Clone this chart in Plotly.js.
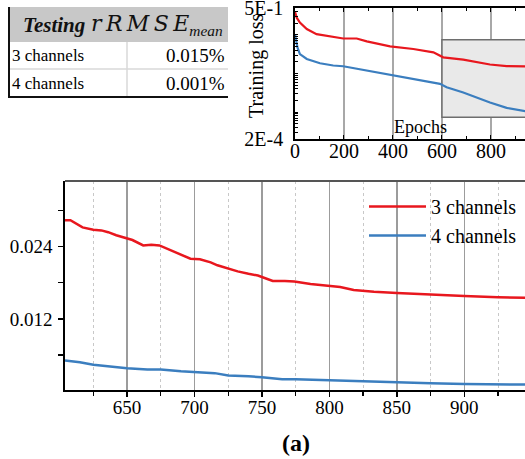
<!DOCTYPE html>
<html>
<head>
<meta charset="utf-8">
<script src="https://cdn.plot.ly/plotly-3.0.1.min.js"></script>
<style>html,body{margin:0;padding:0;background:#fff;}#chart{width:525px;height:459px;}</style>
</head>
<body>
<div id="chart"></div>
<script>
// ---------- data ----------
const seriesNames = ["3 channels", "4 channels"];

// main (zoomed) plot, epochs 604-945
const zoomEpochsRed = [604, 608, 617, 625, 631, 636, 642, 650, 654, 662, 668, 674, 678, 683, 690, 697, 704, 712, 717, 725, 732, 740, 747, 752, 758, 767, 774, 786, 800, 808, 818, 833, 850, 875, 900, 925, 945];
const zoomRed = [0.0284, 0.0284, 0.0272, 0.0268, 0.0267, 0.0264, 0.0259, 0.0253, 0.0251, 0.0242, 0.0243, 0.0242, 0.0238, 0.0233, 0.0226, 0.0220, 0.0219, 0.0214, 0.0209, 0.0203, 0.0199, 0.0195, 0.0192, 0.0188, 0.0183, 0.0183, 0.0182, 0.0178, 0.0175, 0.0173, 0.0168, 0.0165, 0.0163, 0.0160, 0.0158, 0.0156, 0.0155];
const zoomEpochsBlue = [604, 615, 625, 640, 650, 665, 675, 690, 700, 715, 725, 740, 750, 765, 775, 800, 825, 850, 875, 900, 925, 945];
const zoomBlue = [0.0051, 0.0048, 0.0044, 0.0040, 0.0038, 0.0036, 0.0036, 0.0033, 0.0032, 0.0030, 0.0026, 0.0025, 0.0023, 0.0020, 0.0020, 0.0018, 0.0016, 0.0014, 0.0013, 0.0012, 0.0011, 0.0011];

// inset plot (full training, log scale)
const fullEpochsRed = [0, 7, 20, 48, 88, 143, 197, 252, 293, 388, 483, 565, 605, 687, 796, 864, 940];
const fullRed = [0.40, 0.281, 0.209, 0.142, 0.105, 0.091, 0.081, 0.081, 0.068, 0.0505, 0.0433, 0.0355, 0.0263, 0.0229, 0.0171, 0.0155, 0.0153];
const fullEpochsBlue = [0, 10, 20, 48, 102, 156, 197, 293, 388, 483, 592, 619, 687, 796, 864, 940];
const fullBlue = [0.105, 0.0475, 0.032, 0.0239, 0.0184, 0.0161, 0.0154, 0.0119, 0.0094, 0.0073, 0.0054, 0.0044, 0.0032, 0.00176, 0.00128, 0.00105];

// inset axis labels
const insetYTickVals = [0.0002, 0.5];
const insetYTickText = ["2E-4", "5E-1"];
const zoomBoxEpochs = [600, 945];
const zoomBoxLoss = [0.000736, 0.075];

// table
const tableRows = ["3 channels", "4 channels"];
const tableValues = ["0.015%", "0.001%"];

// ---------- styles ----------
const RED = "#e8171e", BLUE = "#3b7ebf";
const SERIF = "Liberation Serif";
const MATH = "DejaVu Serif";
const W = 525, H = 459;
const px = x => x / W, py = y => 1 - y / H;

const traces = [
  {x: zoomEpochsRed, y: zoomRed, name: seriesNames[0], type: "scatter", mode: "lines",
   line: {color: RED, width: 2.5}, xaxis: "x", yaxis: "y", legendgroup: "a"},
  {x: zoomEpochsBlue, y: zoomBlue, name: seriesNames[1], type: "scatter", mode: "lines",
   line: {color: BLUE, width: 2.5}, xaxis: "x", yaxis: "y", legendgroup: "b"},
  {x: fullEpochsRed, y: fullRed, name: seriesNames[0], type: "scatter", mode: "lines",
   line: {color: RED, width: 2.2}, xaxis: "x2", yaxis: "y2", showlegend: false},
  {x: fullEpochsBlue, y: fullBlue, name: seriesNames[1], type: "scatter", mode: "lines",
   line: {color: BLUE, width: 2.2}, xaxis: "x2", yaxis: "y2", showlegend: false}
];

const shapes = [
  // main plot top border
  {type: "line", xref: "paper", yref: "paper", x0: px(65), x1: 1, y0: py(181), y1: py(181),
   line: {color: "#555", width: 2}},
  // inset zoom box
  {type: "rect", xref: "x2", yref: "y2", x0: zoomBoxEpochs[0], x1: zoomBoxEpochs[1],
   y0: zoomBoxLoss[0], y1: zoomBoxLoss[1], fillcolor: "#e9e9e9", layer: "between",
   line: {color: "#6e6e6e", width: 1.5}},
  // table
  {type: "rect", xref: "paper", yref: "paper", x0: px(9), x1: px(228), y0: py(42), y1: py(7),
   fillcolor: "#c8c8c8", line: {width: 0}},
  {type: "line", xref: "paper", yref: "paper", x0: px(9), x1: px(228), y0: py(69), y1: py(69),
   line: {color: "#d8d8d8", width: 1.5}},
  {type: "line", xref: "paper", yref: "paper", x0: px(127), x1: px(127), y0: py(42), y1: py(97),
   line: {color: "#d8d8d8", width: 1.5}},
  {type: "line", xref: "paper", yref: "paper", x0: px(9), x1: px(9), y0: py(7), y1: py(97),
   line: {color: "#111", width: 2}},
  {type: "line", xref: "paper", yref: "paper", x0: px(8), x1: px(228), y0: py(97), y1: py(97),
   line: {color: "#111", width: 2}}
];

const TS = "&#8201;";
const annotations = [
  {xref: "paper", yref: "paper", x: px(21), y: py(25), showarrow: false,
   text: "<b><i>Testing</i></b>",
   font: {family: SERIF, size: 21, color: "#111"}, xanchor: "left", yanchor: "middle"},
  {xref: "paper", yref: "paper", x: px(89), y: py(25), showarrow: false,
   text: "<i>r" + TS + "R" + TS + "M" + TS + "S" + TS + "E</i><sub><i><span style=\"font-family:'Liberation Serif'\">mean</span></i></sub>",
   font: {family: MATH, size: 22, color: "#111"}, xanchor: "left", yanchor: "middle"},
  {xref: "paper", yref: "paper", x: px(296), y: py(443), showarrow: false, text: "<b>(a)</b>",
   font: {family: SERIF, size: 24, color: "#000"}, xanchor: "center", yanchor: "middle"},
  {xref: "paper", yref: "paper", x: px(257), y: py(66), showarrow: false, text: "Training loss",
   textangle: -90, font: {family: SERIF, size: 20, color: "#000"}, xanchor: "center", yanchor: "middle"},
  {xref: "paper", yref: "paper", x: px(420), y: py(127), showarrow: false, text: "Epochs",
   font: {family: SERIF, size: 18, color: "#000"}, xanchor: "center", yanchor: "middle"}
];
tableRows.forEach((r, i) => {
  const yc = 56 + i * 27;
  annotations.push({xref: "paper", yref: "paper", x: px(10), y: py(yc), showarrow: false, text: r,
    font: {family: SERIF, size: 17, color: "#000"}, xanchor: "left", yanchor: "middle"});
  annotations.push({xref: "paper", yref: "paper", x: px(227), y: py(yc), showarrow: false, text: tableValues[i],
    font: {family: SERIF, size: 19, color: "#000"}, xanchor: "right", yanchor: "middle"});
});

const tickFont = {family: SERIF, size: 19, color: "#000"};

const layout = {
  width: W, height: H,
  margin: {l: 0, r: 0, t: 0, b: 0},
  paper_bgcolor: "#fff", plot_bgcolor: "rgba(0,0,0,0)",
  font: {family: SERIF},
  showlegend: true,
  legend: {x: px(364), y: py(187), xanchor: "left", yanchor: "top", bgcolor: "rgba(0,0,0,0)",
    font: {family: SERIF, size: 20, color: "#000"}, traceorder: "grouped", tracegroupgap: 0,
    itemwidth: 57},
  xaxis: {domain: [px(65), 1], range: [604, 945], anchor: "y",
    tick0: 650, dtick: 50, ticks: "outside", ticklen: 5, tickwidth: 1.3, tickcolor: "#000",
    showline: true, linecolor: "#000", linewidth: 1.8, zeroline: false,
    showgrid: true, gridcolor: "#9c9c9c", gridwidth: 1.3,
    minor: {dtick: 25, ticks: "outside", ticklen: 4, tickcolor: "#000", showgrid: true,
      gridcolor: "#c8c8c8", griddash: "dot", gridwidth: 1},
    tickfont: tickFont, ticklabelstandoff: -6},
  yaxis: {domain: [py(390), py(181)], range: [0.0002, 0.0349], anchor: "x",
    tick0: 0, dtick: 0.012, tickformat: ".3f", ticks: "outside", ticklen: 5, tickwidth: 1.3, tickcolor: "#000",
    showline: true, linecolor: "#000", linewidth: 1.8, zeroline: false, showgrid: false,
    minor: {tick0: 0, dtick: 0.006, ticks: "outside", ticklen: 5, tickcolor: "#000", showgrid: false},
    tickfont: tickFont, ticklabelstandoff: 2},
  xaxis2: {domain: [px(295), 1], range: [0, 939], anchor: "y2",
    tick0: 0, dtick: 200, ticks: "inside", ticklen: 4, tickcolor: "#000",
    showline: true, linecolor: "#000", linewidth: 1.8, mirror: "ticks", zeroline: false,
    showgrid: true, gridcolor: "#a8a8a8", gridwidth: 1.5,
    minor: {dtick: 100, ticks: "inside", ticklen: 3, tickcolor: "#000", showgrid: false},
    tickfont: {family: SERIF, size: 20, color: "#000"}, ticklabelstandoff: -7},
  yaxis2: {domain: [py(139), py(8)], type: "log", range: [Math.log10(0.0002) - 0.001, Math.log10(0.5) + 0.001], anchor: "x2",
    tickmode: "array", tickvals: insetYTickVals, ticktext: insetYTickText, ticklabeloverflow: "allow",
    ticks: "inside", ticklen: 5, tickcolor: "#000",
    showline: true, linecolor: "#000", linewidth: 1.8, zeroline: false, showgrid: false,
    minor: {dtick: "D1", ticks: "inside", ticklen: 3, tickcolor: "#000", showgrid: false},
    tickfont: {family: SERIF, size: 20, color: "#000"}, ticklabelstandoff: 6},
  shapes: shapes,
  annotations: annotations
};

Plotly.newPlot("chart", traces, layout, {staticPlot: true, displayModeBar: false});
</script>
</body>
</html>
